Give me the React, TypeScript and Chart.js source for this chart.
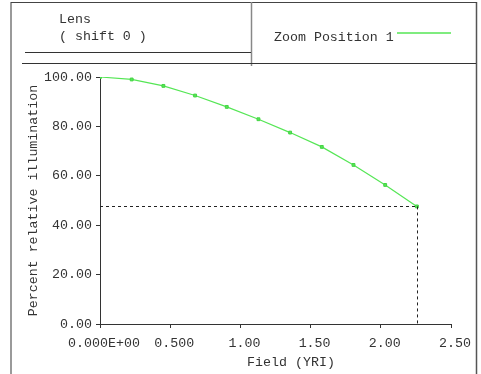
import React, { useEffect, useRef } from "react";
import { Chart, registerables } from "chart.js";

Chart.register(...registerables);

const FONT_FAMILY = "'Liberation Mono', 'Courier New', monospace";
const FONT_SIZE = 13.3;
const TEXT_COLOR = "#333333";
const GREEN = "#55e655";

// Data
const fieldValues = [0, 0.2257, 0.4514, 0.6771, 0.9028, 1.1285, 1.3542, 1.5799, 1.8056, 2.0313, 2.257];
const illumination = [100, 99.0, 96.4, 92.5, 87.9, 82.9, 77.5, 71.7, 64.4, 56.3, 47.6];

const xTickValues = [0, 0.5, 1.0, 1.5, 2.0, 2.5];
const xTickLabels = ["0.000E+00", "0.500", "1.00", "1.50", "2.00", "2.50"];
const yTickValues = [0, 20, 40, 60, 80, 100];
const yTickLabels = ["0.00", "20.00", "40.00", "60.00", "80.00", "100.00"];

const headerLines = ["Lens", "( shift 0 )"];
const seriesLabel = "Zoom Position 1";
const xTitle = "Field (YRI)";
const yTitle = "Percent relative illumination";

const framePlugin = {
  id: "framePlugin",
  beforeDraw(chart: any) {
    const ctx = chart.ctx;
    ctx.save();
    ctx.fillStyle = "#ffffff";
    ctx.fillRect(0, 0, chart.width, chart.height);
    ctx.restore();
  },
  afterDraw(chart: any) {
    const ctx = chart.ctx;
    const xs = chart.scales.x;
    const ys = chart.scales.y;
    const area = chart.chartArea;
    ctx.save();

    // outer frame
    ctx.strokeStyle = "#9a9a9a";
    ctx.lineWidth = 2;
    ctx.beginPath();
    ctx.moveTo(11, 2);
    ctx.lineTo(11, chart.height);
    ctx.stroke();

    ctx.strokeStyle = "#555555";
    ctx.lineWidth = 1.5;
    ctx.beginPath();
    ctx.moveTo(476.5, 2);
    ctx.lineTo(476.5, chart.height);
    ctx.stroke();

    ctx.strokeStyle = "#444444";
    ctx.lineWidth = 1;
    ctx.beginPath();
    ctx.moveTo(11, 2.5);
    ctx.lineTo(477, 2.5);
    ctx.stroke();

    // header divider
    ctx.strokeStyle = "#888888";
    ctx.lineWidth = 1.5;
    ctx.beginPath();
    ctx.moveTo(251.5, 2);
    ctx.lineTo(251.5, 66);
    ctx.stroke();

    ctx.strokeStyle = "#333333";
    ctx.lineWidth = 1;
    ctx.beginPath();
    ctx.moveTo(25, 52.5);
    ctx.lineTo(251, 52.5);
    ctx.moveTo(22, 63.5);
    ctx.lineTo(476, 63.5);
    ctx.stroke();

    // header text
    ctx.font = `${FONT_SIZE}px ${FONT_FAMILY}`;
    ctx.fillStyle = TEXT_COLOR;
    ctx.textAlign = "left";
    ctx.textBaseline = "middle";
    ctx.fillText(headerLines[0], 59, 19);
    ctx.fillText(headerLines[1], 59, 36);

    // legend
    ctx.fillText(seriesLabel, 274, 37);
    ctx.strokeStyle = GREEN;
    ctx.lineWidth = 1.5;
    ctx.beginPath();
    ctx.moveTo(397, 33);
    ctx.lineTo(451, 33);
    ctx.stroke();

    // x axis title
    ctx.textAlign = "center";
    ctx.fillText(xTitle, 291, 362);

    // dashed guide lines to the last point
    const lastX = xs.getPixelForValue(fieldValues[fieldValues.length - 1]);
    const lastY = ys.getPixelForValue(illumination[illumination.length - 1]);
    ctx.strokeStyle = "#222222";
    ctx.lineWidth = 1;
    ctx.setLineDash([3, 3]);
    ctx.beginPath();
    ctx.moveTo(area.left, Math.round(lastY) + 0.5);
    ctx.lineTo(lastX, Math.round(lastY) + 0.5);
    ctx.moveTo(Math.round(lastX) + 0.5, lastY);
    ctx.lineTo(Math.round(lastX) + 0.5, area.bottom);
    ctx.stroke();
    ctx.setLineDash([]);

    ctx.restore();
  },
};

export default function App() {
  const canvasRef = useRef<HTMLCanvasElement | null>(null);

  useEffect(() => {
    if (!canvasRef.current) return;
    const font = { family: FONT_FAMILY, size: FONT_SIZE };
    const chart = new Chart(canvasRef.current, {
      type: "scatter",
      data: {
        datasets: [
          {
            label: seriesLabel,
            data: fieldValues.map((x, i) => ({ x, y: illumination[i] })),
            showLine: true,
            borderColor: GREEN,
            backgroundColor: GREEN,
            borderWidth: 1.2,
            pointStyle: "rect",
            pointRadius: 2,
            pointBorderWidth: 1,
            pointBorderColor: "#44d444",
            pointBackgroundColor: GREEN,
            tension: 0,
          },
        ],
      },
      options: {
        animation: false,
        responsive: false,
        maintainAspectRatio: false,
        layout: { padding: { top: 77, right: 30, bottom: 0, left: 0 } },
        plugins: {
          legend: { display: false },
          tooltip: { enabled: false },
          title: { display: false },
        },
        scales: {
          x: {
            type: "linear",
            position: "bottom",
            min: 0,
            max: 2.5,
            afterBuildTicks: (s: any) => {
              s.ticks = xTickValues.map((v) => ({ value: v }));
            },
            afterFit: (s: any) => {
              s.height = 50;
            },
            border: { display: true, color: "#333333", width: 1 },
            grid: {
              drawOnChartArea: false,
              drawTicks: true,
              tickLength: 4,
              color: "#333333",
            },
            ticks: {
              font,
              color: TEXT_COLOR,
              padding: 7,
              labelOffset: 4,
              maxRotation: 0,
              autoSkip: false,
              callback: (_v: any, i: number) => xTickLabels[i],
            },
          },
          y: {
            type: "linear",
            position: "left",
            min: 0,
            max: 100,
            afterBuildTicks: (s: any) => {
              s.ticks = yTickValues.map((v) => ({ value: v }));
            },
            afterFit: (s: any) => {
              s.width = 100;
            },
            border: { display: true, color: "#333333", width: 1 },
            grid: {
              drawOnChartArea: false,
              drawTicks: true,
              tickLength: 4,
              color: "#333333",
            },
            ticks: {
              font,
              color: TEXT_COLOR,
              padding: 4,
              autoSkip: false,
              callback: (_v: any, i: number) => yTickLabels[i],
            },
            title: {
              display: true,
              text: yTitle,
              font,
              color: TEXT_COLOR,
              padding: { top: 25, bottom: 0 },
            },
          },
        },
      },
      plugins: [framePlugin],
    } as any);
    return () => chart.destroy();
  }, []);

  return (
    <div style={{ position: "fixed", left: 0, top: 0, width: 481, height: 374, background: "#fff" }}>
      <canvas ref={canvasRef} width={481} height={374} style={{ display: "block", width: 481, height: 374 }} />
    </div>
  );
}
